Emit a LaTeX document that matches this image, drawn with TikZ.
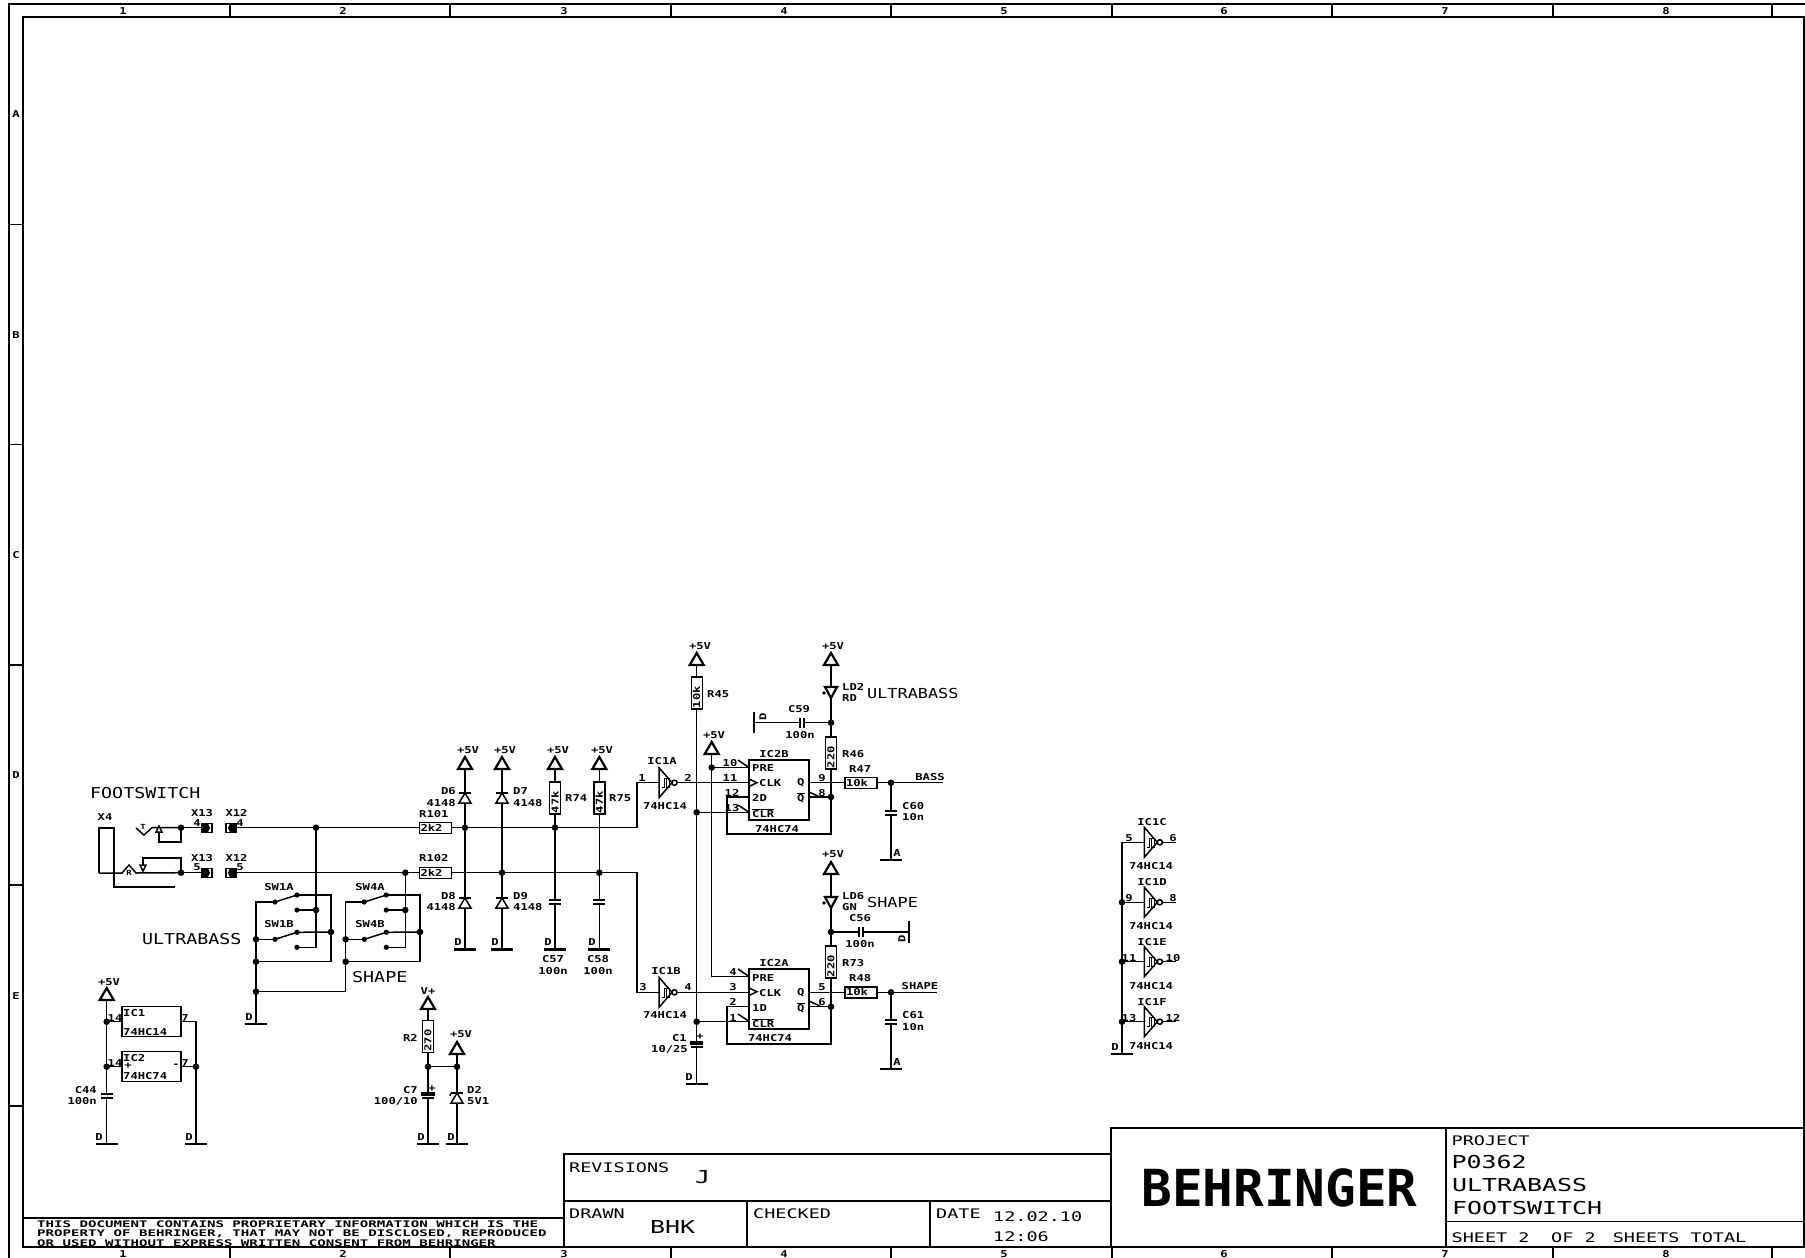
\documentclass[tikz,border=0pt]{standalone}
\usepackage{fontspec}
\usepackage{tikz}
\setmainfont{DejaVu Sans Mono}
\newfontfamily\labfont[FakeStretch=1.28]{DejaVu Sans Mono}
\newfontfamily\sigfont[FakeStretch=1.22]{DejaVu Sans Mono}
\newfontfamily\titlefont[FakeStretch=1.4]{DejaVu Sans Mono}
\newfontfamily\footfont[FakeStretch=1.55]{DejaVu Sans Mono}

\tikzset{
  frame/.style={line width=1.1pt},
  wire/.style={line width=1.5pt},
  heavy/.style={line width=2.2pt},
  lab/.style={font=\labfont\bfseries\fontsize{9.5}{10}\selectfont,inner sep=0pt},
  labw/.style={lab,anchor=west},
  labe/.style={lab,anchor=east},
  tinylab/.style={font=\labfont\bfseries\fontsize{7}{8}\selectfont,inner sep=0pt},
  siglab/.style={font=\sigfont\fontsize{15}{16}\selectfont,inner sep=0pt,anchor=west},
  sigsmall/.style={font=\sigfont\fontsize{13.8}{16}\selectfont,inner sep=0pt,anchor=west},
  titlelab/.style={font=\titlefont\fontsize{13.2}{14}\selectfont,inner sep=0pt,anchor=west},
  titlebig/.style={font=\titlefont\fontsize{17.8}{18}\selectfont,inner sep=0pt,anchor=west},
  footlab/.style={font=\footfont\bfseries\fontsize{9.1}{10}\selectfont,inner sep=0pt,anchor=west},
  resbox/.style={draw,line width=1.4pt,fill=white,minimum width=32pt,minimum height=11pt,
    text width=30pt,inner sep=1pt,align=left,font=\labfont\bfseries\fontsize{9.5}{10}\selectfont},
  resup/.style={resbox,rotate=90},
  icbox/.style={draw,line width=1.4pt,fill=white,inner sep=0pt},
  jackbox/.style={draw,line width=1.4pt,minimum width=10pt,minimum height=9pt,inner sep=0pt}
}

\newcommand{\ovl}[1]{$\overline{\mbox{#1}}$}
\newcommand{\supply}[3]{%
  \draw[heavy,fill=white] (#2-7,#3+12)--(#2,#3)--(#2+7,#3+12)--cycle;
  \coordinate (#1) at (#2,#3+12);}
\newcommand{\gndbar}[3]{%
  \draw[heavy] (#2-11,#3)--(#2+11,#3);
  \coordinate (#1) at (#2,#3);}
\newcommand{\diodeup}[2]{%
  \draw[wire,fill=white] (#1,#2)--(#1+6,#2+10)--(#1-6,#2+10)--cycle;
  \draw[wire] (#1-6,#2)--(#1+6,#2);}
\newcommand{\ledsym}[2]{%
  \draw[heavy,fill=white] (#1-6,#2)--(#1+6,#2)--(#1,#2+11)--cycle;
  \fill (#1-7,#2+6) circle (1.8pt);}
\newcommand{\capv}[2]{%
  \fill[white] (#1-6,#2) rectangle (#1+6,#2+4);
  \draw[wire] (#1-6,#2)--(#1+6,#2) (#1-6,#2+4)--(#1+6,#2+4);}
\newcommand{\capp}[2]{%
  \fill[white] (#1-6,#2) rectangle (#1+6,#2+5);
  \draw[wire] (#1-6,#2) rectangle (#1+6,#2+2);
  \draw[wire] (#1-6,#2+5)--(#1+6,#2+5);}
\newcommand{\caph}[2]{%
  \fill[white] (#1,#2-5) rectangle (#1+4,#2+5);
  \draw[wire] (#1,#2-5)--(#1,#2+5) (#1+4,#2-5)--(#1+4,#2+5);}
\newcommand{\invgate}[3]{%
  \draw[wire,fill=white] (#2,#3-15)--(#2+13,#3)--(#2,#3+15)--cycle;
  \draw[wire] (#2+15.5,#3) circle (2.6pt);
  \draw[line width=1pt] (#2+2.5,#3+5)--(#2+5,#3+5)--(#2+5,#3-4)--(#2+10,#3-4)--(#2+10,#3+5)--(#2+7.5,#3+5)--(#2+7.5,#3-4);
  \coordinate (#1in) at (#2,#3);
  \coordinate (#1out) at (#2+18.5,#3);}
\newcommand{\swpole}[3]{%
  \draw[wire] (#2,#3)--(#2+22,#3-7);
  \fill (#2,#3) circle (2.6pt) (#2+22,#3-7) circle (2.6pt) (#2+22,#3+8) circle (2.6pt);
  \coordinate (#1c) at (#2,#3);
  \coordinate (#1u) at (#2+22,#3-7);
  \coordinate (#1l) at (#2+22,#3+8);}

\begin{document}
\begin{tikzpicture}[x=1pt,y=-1pt]
\useasboundingbox (0,0) rectangle (1805,1258);

% sheet border
\draw[frame] (9,1265) -- (9,4) -- (1812,4);
\draw[frame] (23,17) rectangle (1804,1247);
\foreach \tx in {230,450,671,891,1112,1332,1553,1772}
  \draw[frame] (\tx,4) -- (\tx,17) (\tx,1247) -- (\tx,1265);
\foreach \ty in {224.5,444.6,665,885,1106}
  \draw[frame] (9,\ty) -- (23,\ty);
\foreach \nm/\nx in {1/123,2/343,3/564,4/784,5/1004,6/1224,7/1445,8/1666} {
  \node[lab] (top\nm) at (\nx,11) {\nm};
  \node[lab] (bot\nm) at (\nx,1254) {\nm};
}
\foreach \nm/\ny in {A/114,B/335,C/555,D/775,E/996}
  \node[lab] (row\nm) at (16,\ny) {\nm};

% title block
\draw[frame] (1111,1128) rectangle (1804,1247);
\draw[frame] (1446,1128) -- (1446,1247) (1446,1221.7) -- (1804,1221.7);
\draw[frame] (564,1154) rectangle (1111,1247);
\draw[frame] (564,1201) -- (1111,1201) (747,1201) -- (747,1247) (930,1201) -- (930,1247);
\draw[frame] (23,1218) -- (564,1218);
\node[font=\bfseries\fontsize{51}{51}\selectfont,inner sep=0pt] (logo) at (1279.5,1188) {BEHRINGER};
\foreach \nm/\xx/\yy/\txt in {tProj/1451.5/1141/PROJECT,tSheetA/1451.5/1238/{SHEET 2},tSheetB/1551/1238/{OF 2},
  tSheetC/1612.6/1238/{SHEETS TOTAL},tRev/569/1168/REVISIONS,tDrawn/569/1214/DRAWN,tCheck/753/1214/CHECKED,
  tDate/936/1214/DATE,tDay/993/1217/12.02.10,tTime/993/1237/12:06}
  \node[titlelab] (\nm) at (\xx,\yy) {\txt};
\foreach \nm/\xx/\yy/\txt in {tNum/1451.5/1162/P0362,tName/1452/1185/ULTRABASS,tSub/1452/1208/FOOTSWITCH,
  tJ/695/1177/J,tBy/650/1227/BHK}
  \node[titlebig] (\nm) at (\xx,\yy) {\txt};
\node[footlab] (foot1) at (37,1224.5) {THIS DOCUMENT CONTAINS PROPRIETARY  INFORMATION WHICH IS THE};
\node[footlab] (foot2) at (37,1233.5) {PROPERTY OF BEHRINGER, THAT MAY NOT BE DISCLOSED, REPRODUCED};
\node[footlab] (foot3) at (37,1243) {OR USED WITHOUT EXPRESS WRITTEN CONSENT FROM BEHRINGER};

% parts with a box
\node[resbox] (R101) at (435.5,827.7) {2k2};
\node[resbox] (R102) at (435.5,872.7) {2k2};
\node[resbox] (R47) at (861,782.7) {10k};
\node[resbox] (R48) at (861,992.3) {10k};
\node[resup] (R74) at (555,798) {47k};
\node[resup] (R75) at (599.3,798) {47k};
\node[resup] (R45) at (696.7,693) {10k};
\node[resup] (R46) at (831,753) {220};
\node[resup] (R73) at (831,962) {220};
\node[resup] (R2) at (428,1036.5) {270};
\node[icbox,minimum width=60pt,minimum height=60pt] (IC2B) at (779,790) {};
\node[icbox,minimum width=60pt,minimum height=60pt] (IC2A) at (779,999) {};
\node[icbox,minimum width=59pt,minimum height=30pt] (IC1) at (151.5,1021.7) {};
\node[icbox,minimum width=59pt,minimum height=30pt] (IC2) at (151.5,1066.7) {};
\node[jackbox] (X13a) at (207,827.7) {};
\node[jackbox] (X12a) at (231,827.7) {};
\node[jackbox] (X13b) at (207,872.7) {};
\node[jackbox] (X12b) at (231,872.7) {};
\foreach \yy in {827.7,872.7} {
  \fill (202,\yy-4.5) -- (208,\yy-4.5) -- (210,\yy) -- (208,\yy+4.5) -- (202,\yy+4.5) -- cycle;
  \fill (236,\yy-4.5) -- (230,\yy-4.5) -- (228,\yy) -- (230,\yy+4.5) -- (236,\yy+4.5) -- cycle;
}

% supplies and grounds
\supply{vccD6}{465}{757}
\supply{vccD7}{502}{757}
\supply{vccR74}{555}{757}
\supply{vccR75}{599.3}{757}
\supply{vccR45}{696.7}{653}
\supply{vccPRE}{711.7}{742}
\supply{vccLD2}{831}{653}
\supply{vccLD6}{831}{862}
\supply{vccC44}{106.7}{988}
\supply{vccR2}{428}{997}
\supply{vccD2}{457}{1042}
\gndbar{gndD8}{465}{949.5}
\gndbar{gndD9}{502}{949.5}
\gndbar{gndC57}{555}{949.5}
\gndbar{gndC58}{599.3}{949.5}
\gndbar{gndC1}{696.7}{1084}
\gndbar{gndC60}{891}{860}
\gndbar{gndC61}{891}{1069}
\gndbar{gndSW}{256}{1024}
\gndbar{gndC44}{106.7}{1144}
\gndbar{gndIC}{196}{1144}
\gndbar{gndC7}{428}{1144}
\gndbar{gndD2}{457}{1144}
\gndbar{gndRail}{1122}{1054}
\draw[heavy] (754,712) -- (754,733);
\draw[heavy] (909,921) -- (909,943);
\coordinate (gndC59) at (754,722.7);
\coordinate (gndC56) at (909,932);

% gates and switch poles
\invgate{IC1A}{659}{782.7}
\invgate{IC1B}{659}{992.3}
\swpole{SW1A}{275}{902}
\swpole{SW1B}{275}{939.3}
\swpole{SW4A}{364.3}{902}
\swpole{SW4B}{364.3}{939.3}

% junctions
\coordinate (jFootA) at (181,827.7);
\coordinate (jFootB) at (181,872.7);
\coordinate (jNetA) at (316,827.7);
\coordinate (jNetB) at (405.3,872.7);
\coordinate (jD6) at (465,827.7);
\coordinate (jD7) at (502,872.7);
\coordinate (jR74) at (555,827.7);
\coordinate (jR75) at (599.3,872.7);
\coordinate (bendA) at (637,827.7);
\coordinate (bendB) at (637,872.7);
\coordinate (jSw1nc) at (316,910);
\coordinate (jSw4nc) at (405.3,910);
\coordinate (jSw1no) at (331,932);
\coordinate (jSw4no) at (420,932);
\coordinate (cnr1) at (331,961.7);
\coordinate (cnr4) at (420,961.7);
\coordinate (jL1) at (256,939.3);
\coordinate (jL2) at (256,961.7);
\coordinate (jL3) at (256,991.7);
\coordinate (jM1) at (345.7,939.3);
\coordinate (jM2) at (345.7,961.7);
\coordinate (cnrM) at (345.7,991.7);
\coordinate (jPRE2B) at (711.7,767.5);
\coordinate (jCLR2B) at (696.7,812.3);
\coordinate (jCLR2A) at (696.7,1021.7);
\coordinate (jC59) at (831,722.7);
\coordinate (jC56) at (831,932);
\coordinate (jQb2B) at (831,797);
\coordinate (jQb2A) at (831,1006.7);
\coordinate (jBASS) at (891,782.7);
\coordinate (jSHAPE) at (891,992.3);
\coordinate (endBASS) at (943,782.7);
\coordinate (endSHAPE) at (937,992.3);
\coordinate (jIC1) at (106.7,1021.7);
\coordinate (jIC2) at (106.7,1066.7);
\coordinate (jIC7) at (196,1066.7);
\coordinate (jR2) at (428,1066.7);
\coordinate (jD2) at (457,1066.7);

% footswitch jack
\draw[wire] (99,873) -- (99,828) -- (114,828) -- (114,887) -- (175,887);
\draw[wire] (99,873) -- (122,873) -- (129,865) -- (136,873) -- (jFootB);
\draw[wire] (136,828) -- (144,835) -- (152,827.7) -- (jFootA);
\draw[wire,fill=white] (156,832) -- (159,826) -- (162,832) -- cycle;
\draw[wire] (159,832) -- (159,842) -- (181,842) -- (jFootA);
\draw[wire,fill=white] (140,865) -- (146,865) -- (143,871) -- cycle;
\draw[wire] (143,865) -- (143,858) -- (181,858) -- (jFootB);
\draw[wire] (jFootA) -- (X13a);
\draw[wire] (jFootB) -- (X13b);

% input nets
\draw[wire] (X12a) -- (jNetA) -- (R101);
\draw[wire] (X12b) -- (jNetB) -- (R102);
\draw[wire] (R101) -- (jD6) -- (jR74) -- (bendA) |- (IC1Ain);
\draw[wire] (R102) -- (jD7) -- (jR75) -- (bendB) |- (IC1Bin);
\draw[wire] (vccD6) -- (jD6) -- (gndD8);
\draw[wire] (vccD7) -- (jD7) -- (gndD9);
\draw[wire] (vccR74) -- (R74);
\draw[wire] (R74) -- (jR74) -- (gndC57);
\draw[wire] (vccR75) -- (R75);
\draw[wire] (R75) -- (jR75) -- (gndC58);
\diodeup{465}{793}
\diodeup{502}{793}
\diodeup{465}{898}
\diodeup{502}{898}
\capv{555}{900}
\capv{599.3}{900}

% switches
\draw[wire] (jNetA) -- (jSw1nc) |- (SW1Bl);
\draw[wire] (SW1Al) -- (jSw1nc);
\draw[wire] (SW1Ac) -| (gndSW);
\draw[wire] (SW1Au) -| (cnr1) -- (jL2);
\draw[wire] (SW1Bu) -- (jSw1no);
\draw[wire] (SW1Bc) -- (jL1);
\draw[wire] (jL3) -- (cnrM) |- (SW4Ac);
\draw[wire] (jM1) -- (SW4Bc);
\draw[wire] (jM2) -- (cnr4) |- (SW4Au);
\draw[wire] (SW4Al) -- (jSw4nc);
\draw[wire] (SW4Bu) -- (jSw4no);
\draw[wire] (jNetB) -- (jSw4nc) |- (SW4Bl);

% flip flops
\coordinate (pre2B) at (749,767.5);
\coordinate (clk2B) at (749,782.7);
\coordinate (d2B) at (749,797);
\coordinate (clr2B) at (749,812.3);
\coordinate (q2B) at (809,782.7);
\coordinate (qb2B) at (809,797);
\coordinate (fb2B) at (831,834);
\coordinate (fbl2B) at (727,797);
\coordinate (pre2A) at (749,976.7);
\coordinate (clk2A) at (749,992.3);
\coordinate (d2A) at (749,1006.7);
\coordinate (clr2A) at (749,1021.7);
\coordinate (q2A) at (809,992.3);
\coordinate (qb2A) at (809,1006.7);
\coordinate (fb2A) at (831,1044);
\coordinate (fbl2A) at (727,1006.7);
\draw[wire] (IC1Aout) -- (clk2B);
\draw[wire] (IC1Bout) -- (clk2A);
\draw[wire] (vccR45) -- (R45);
\draw[wire] (R45) -- (jCLR2B) -- (jCLR2A) -- (gndC1);
\draw[wire] (jCLR2B) -- (clr2B);
\draw[wire] (jCLR2A) -- (clr2A);
\draw[wire] (vccPRE) -- (jPRE2B) |- (pre2A);
\draw[wire] (jPRE2B) -- (pre2B);
\draw[wire] (vccLD2) -- (jC59) -- (R46);
\draw[wire] (R46) -- (jQb2B) -- (fb2B) -| (fbl2B) -- (d2B);
\draw[wire] (qb2B) -- (jQb2B);
\draw[wire] (q2B) -- (R47);
\draw[wire] (R47) -- (jBASS) -- (endBASS);
\draw[wire] (jBASS) -- (gndC60);
\draw[wire] (jC59) -- (gndC59);
\draw[wire] (vccLD6) -- (jC56) -- (R73);
\draw[wire] (R73) -- (jQb2A) -- (fb2A) -| (fbl2A) -- (d2A);
\draw[wire] (qb2A) -- (jQb2A);
\draw[wire] (q2A) -- (R48);
\draw[wire] (R48) -- (jSHAPE) -- (endSHAPE);
\draw[wire] (jSHAPE) -- (gndC61);
\draw[wire] (jC56) -- (gndC56);
\foreach \yy in {0,209} {
  \draw[wire] (749,779+\yy) -- (757,782.7+\yy) -- (749,786.5+\yy);
  \draw[wire] (738,760+\yy) -- (749,767.5+\yy);
  \draw[wire] (738,805+\yy) -- (749,812.3+\yy);
  \draw[wire] (809,792+\yy) -- (820,797+\yy);
}
\ledsym{831}{687}
\ledsym{831}{897}
\caph{800}{722.7}
\caph{859}{932}
\capv{891}{811}
\capv{891}{1020}
\capp{696.7}{1042}

% power pins
\draw[wire] (vccC44) -- (jIC1) -- (jIC2) -- (gndC44);
\draw[wire] (jIC1) -- (IC1);
\draw[wire] (jIC2) -- (IC2);
\draw[wire] (IC1) -| (jIC7) -- (gndIC);
\draw[wire] (IC2) -- (jIC7);
\draw[wire] (vccR2) -- (R2);
\draw[wire] (R2) -- (jR2) -- (gndC7);
\draw[wire] (jR2) -- (jD2);
\draw[wire] (vccD2) -- (jD2) -- (gndD2);
\capv{106.7}{1094}
\capp{428}{1093}
\diodeup{457}{1093}
\draw[wire] (451,1093) -- (450,1096);

% spare gates
\coordinate (railTop) at (1122,842.3);
\draw[wire] (railTop) -- (gndRail);
\foreach \nm/\yy in {C/842.3,D/902.3,E/961.7,F/1021.7} {
  \invgate{IC1\nm}{1144.3}{\yy}
  \coordinate (rail\nm) at (1122,\yy);
  \coordinate (end\nm) at (1176,\yy);
  \draw[wire] (rail\nm) -- (IC1\nm in);
  \draw[wire] (IC1\nm out) -- (end\nm);
}

% dots
\foreach \jn in {jFootA,jFootB,jNetA,jNetB,jD6,jD7,jR74,jR75,jSw1nc,jSw4nc,jSw1no,jSw4no,jL1,jL2,jL3,
  jM1,jM2,jPRE2B,jCLR2B,jCLR2A,jC59,jC56,jQb2B,jQb2A,jBASS,jSHAPE,jIC1,jIC2,jIC7,jR2,jD2,railD,railE,railF}
  \fill (\jn) circle (3.3pt);

% labels
\node[tinylab] (tipT) at (143,827) {T};
\node[tinylab] (ringR) at (129,873) {R};
\node[lab,rotate=90] (gnd59txt) at (763,717) {D};
\node[lab,rotate=90] (gnd56txt) at (902,939) {D};
\node[siglab] (sigFoot) at (90,793) {FOOTSWITCH};
\node[siglab] (sigUltra) at (142,939) {ULTRABASS};
\node[siglab] (sigShape) at (352,977) {SHAPE};
\node[sigsmall] (sigLD2) at (867,693) {ULTRABASS};
\node[sigsmall] (sigLD6) at (867,902) {SHAPE};
\foreach \nm/\xx/\yy/\txt in {
  lX4/105/817/X4,lX13a/202/813/X13,lX12a/236.5/813/X12,lX13b/202/858/X13,lX12b/236.5/858/X12,
  pX13a/197/823/4,pX12a/240/823/4,pX13b/197/867/5,pX12b/240/867/5,
  lSW1A/279/887/SW1A,lSW1B/279/924/SW1B,lSW4A/370/887/SW4A,lSW4B/370/924/SW4B,
  vD6/468/750/+5V,vD7/505/750/+5V,vR74/558/750/+5V,vR75/602/750/+5V,
  vR45/700/646/+5V,vPRE/714/735/+5V,vLD2/833/646/+5V,vLD6/833/854/+5V,
  vC44/109/982/+5V,vR2/428/991/V+,vD2/461/1034/+5V,
  lC57/553/959/C57,vC57/553/971/100n,lC58/598/959/C58,vC58/598/971/100n,
  lIC1A/662/761/IC1A,tIC1A/665/806/74HC14,lIC1B/666/971/IC1B,tIC1B/665/1015/74HC14,
  p1/642/778/1,p2/688/778/2,p3/643/987/3,p4/688/987/4,
  p10/730/763/10,p11/730/778/11,p12/732/793/12,p13/732/808/13,p9/822/778/9,p8/822/793/8,
  p4a/733/972/4,p3a/733/987/3,p2a/733/1002/2,p1a/733/1018/1,p5a/822/987/5,p6a/822/1002/6,
  lIC2B/774/754/IC2B,tIC2B/777/829/74HC74,lIC2A/774/963/IC2A,tIC2A/770/1038/74HC74,
  lC59/799/709/C59,vC59/800/735/100n,lC56/860/918/C56,vC56/860/944/100n,
  lBASS/930/777/BASS,lSHAPE/920/986/SHAPE,
  dSW/249/1017/D,dD8/458/942/D,dD9/495/942/D,dC57/548/942/D,dC58/592/942/D,dC1/689/1077/D,
  aC60/897/853/A,aC61/897/1062/A,dC44/99/1137/D,dIC/189/1137/D,dC7/421/1137/D,dD2/451/1137/D,
  dRail/1115/1047/D,
  pIC114/115/1018/14,pIC17/185/1018/7,pIC214/115/1063/14,pIC27/185/1063/7,
  pPlus/128/1066/+,pMinus/176/1066/-,pC1/700/1037/+,pC7/432/1089/+}
  \node[lab] (\nm) at (\xx,\yy) {\txt};
\foreach \nm/\xx/\yy/\txt in {
  lR101/419/814/R101,lR102/419/858/R102,lD7/513/791/D7,vD7b/513/803/4148,lD9/513/896/D9,vD9/513/907/4148,
  lR74/565/798/R74,lR75/609/798/R75,lR45/707/694/R45,lR46/842/754/R46,lR73/842/963/R73,
  lLD2/842/687/LD2,cLD2/842/698/RD,lLD6/842/896/LD6,cLD6/842/907/GN,
  lR47/849/769/R47,lR48/849/978/R48,lC60/902/806/C60,vC60/902/817/10n,lC61/902/1015/C61,vC61/902/1027/10n,
  fPRE/752/768/PRE,fCLK/759/783/CLK,fD/752/798/2D,fCLR/752/813/{\ovl{CLR}},fQ/797/783/Q,fQb/797/798/{\ovl{Q}},
  gPRE/752/978/PRE,gCLK/759/993/CLK,gD/752/1008/1D,gCLR/752/1023/{\ovl{CLR}},gQ/797/993/Q,gQb/797/1008/{\ovl{Q}},
  lIC1/123/1013/IC1,tIC1/123/1032/74HC14,lIC2/123/1058/IC2,tIC2/123/1076/74HC74,
  lD2/467/1090/D2,vD2b/467/1101/5V1}
  \node[labw] (\nm) at (\xx,\yy) {\txt};
\foreach \nm/\xx/\yy/\txt in {
  lD6/456/791/D6,vD6b/456/803/4148,lD8/456/896/D8,vD8/456/907/4148,
  lC1/687/1038/C1,vC1/688/1049/{10/25},lR2/418/1038/R2,lC7/418/1090/C7,vC7/418/1101/{100/10},
  lC44/97/1090/C44,vC44b/97/1101/100n}
  \node[labe] (\nm) at (\xx,\yy) {\txt};
\foreach \nm/\yy/\pin/\pout in {C/842.3/5/6,D/902.3/9/8,E/961.7/11/10,F/1021.7/13/12} {
  \node[lab] (l\nm) at (1152,\yy-20) {IC1\nm};
  \node[lab] (t\nm) at (1151,\yy+24) {74HC14};
  \node[lab] (i\nm) at (1129,\yy-4) {\pin};
  \node[lab] (o\nm) at (1173,\yy-4) {\pout};
}
\end{tikzpicture}
\end{document}
